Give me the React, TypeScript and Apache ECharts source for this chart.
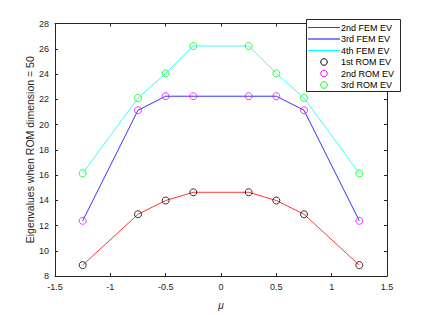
import React, { useEffect, useRef } from "react";
import * as echarts from "echarts";

const muValues = [-1.25, -0.75, -0.5, -0.25, 0.25, 0.5, 0.75, 1.25];
const fem2 = [8.86, 12.89, 13.98, 14.63, 14.63, 13.98, 12.89, 8.86];
const fem3 = [12.37, 21.13, 22.24, 22.24, 22.24, 22.24, 21.13, 12.37];
const fem4 = [16.13, 22.1, 24.05, 26.22, 26.22, 24.05, 22.1, 16.13];
const rom1 = [8.86, 12.89, 13.98, 14.63, 14.63, 13.98, 12.89, 8.86];
const rom2 = [12.37, 21.13, 22.24, 22.24, 22.24, 22.24, 21.13, 12.37];
const rom3 = [16.13, 22.1, 24.05, 26.22, 26.22, 24.05, 22.1, 16.13];

const femNames = ["2nd FEM EV", "3rd FEM EV", "4th FEM EV"];
const romNames = ["1st ROM EV", "2nd ROM EV", "3rd ROM EV"];
const femColors = ["#ff0000", "#0000ff", "#00ffff"];
const romColors = ["#000000", "#ff00ff", "#00ff00"];

const FONT = "'Liberation Sans', Arial, Helvetica, sans-serif";
const AX = "#262626";

const pairs = (ys: number[]) => muValues.map((x, i) => [x, ys[i]]);

function buildLegend() {
  const boxX = 306.5;
  const boxY = 19.5;
  const rowY0 = 27.5;
  const rowStep = 11.5;
  const els: any[] = [
    {
      type: "rect",
      z: 10,
      shape: { x: boxX, y: boxY, width: 94, height: 72 },
      style: { fill: "#ffffff", stroke: AX, lineWidth: 1 },
    },
  ];
  const entries = [
    ...femNames.map((n, i) => ({ name: n, color: femColors[i], kind: "line" })),
    ...romNames.map((n, i) => ({ name: n, color: romColors[i], kind: "circle" })),
  ];
  entries.forEach((e, i) => {
    const y = rowY0 + i * rowStep;
    if (e.kind === "line") {
      els.push({
        type: "line",
        z: 11,
        shape: { x1: 308, y1: y, x2: 340, y2: y },
        style: { stroke: e.color, lineWidth: 1 },
      });
    } else {
      els.push({
        type: "circle",
        z: 11,
        shape: { cx: 324, cy: y, r: 3.3 },
        style: { fill: "none", stroke: e.color, lineWidth: 1 },
      });
    }
    els.push({
      type: "text",
      z: 11,
      x: 341,
      y: y,
      style: {
        text: e.name,
        fill: "#000000",
        font: `9px ${FONT}`,
        verticalAlign: "middle",
        align: "left",
      },
    });
  });
  return els;
}

export default function App() {
  const ref = useRef<HTMLDivElement>(null);
  useEffect(() => {
    if (!ref.current) return;
    const chart = echarts.init(ref.current, null, { renderer: "svg" });
    const femData = [fem2, fem3, fem4];
    const romData = [rom1, rom2, rom3];
    const axisCommon = {
      axisLine: { show: true, onZero: false, lineStyle: { color: AX, width: 1 } },
      axisTick: { show: true, inside: true, length: 3, lineStyle: { color: AX } },
      splitLine: { show: false },
    };
    chart.setOption({
      animation: false,
      textStyle: { fontFamily: FONT },
      grid: { left: 55, top: 23.5, right: 41, bottom: 34 },
      xAxis: [
        {
          type: "value",
          min: -1.5,
          max: 1.5,
          interval: 0.5,
          position: "bottom",
          ...axisCommon,
          axisLabel: { color: AX, fontSize: 9, fontFamily: FONT, margin: 6 },
          name: "μ",
          nameLocation: "middle",
          nameGap: 24,
          nameMoveOverlap: false,
          nameTextStyle: { color: AX, fontSize: 10, fontStyle: "italic", fontFamily: FONT },
        },
        {
          type: "value",
          min: -1.5,
          max: 1.5,
          interval: 0.5,
          position: "top",
          ...axisCommon,
          axisLabel: { show: false },
        },
      ],
      yAxis: [
        {
          type: "value",
          min: 8,
          max: 28,
          interval: 2,
          position: "left",
          ...axisCommon,
          axisLabel: { color: AX, fontSize: 9, fontFamily: FONT, margin: 6 },
          name: "Eigenvalues when ROM dimension = 50",
          nameLocation: "middle",
          nameGap: 20,
          nameMoveOverlap: false,
          nameTextStyle: { color: AX, fontSize: 10.5, fontFamily: FONT },
        },
        {
          type: "value",
          min: 8,
          max: 28,
          interval: 2,
          position: "right",
          ...axisCommon,
          axisLabel: { show: false },
        },
      ],
      graphic: buildLegend(),
      series: [
        ...femNames.map((n, i) => ({
          name: n,
          type: "line",
          data: pairs(femData[i]),
          showSymbol: false,
          symbol: "none",
          lineStyle: { color: femColors[i], width: 0.8 },
          itemStyle: { color: femColors[i] },
          z: 2,
        })),
        ...romNames.map((n, i) => ({
          name: n,
          type: "scatter",
          data: pairs(romData[i]),
          symbol: "circle",
          symbolSize: 7,
          itemStyle: { color: "rgba(0,0,0,0)", borderColor: romColors[i], borderWidth: 1 },
          z: 3,
        })),
      ],
    });
    return () => chart.dispose();
  }, []);
  return (
    <div
      ref={ref}
      style={{ position: "absolute", left: 0, top: 0, width: 428, height: 315, background: "#fff" }}
    />
  );
}
